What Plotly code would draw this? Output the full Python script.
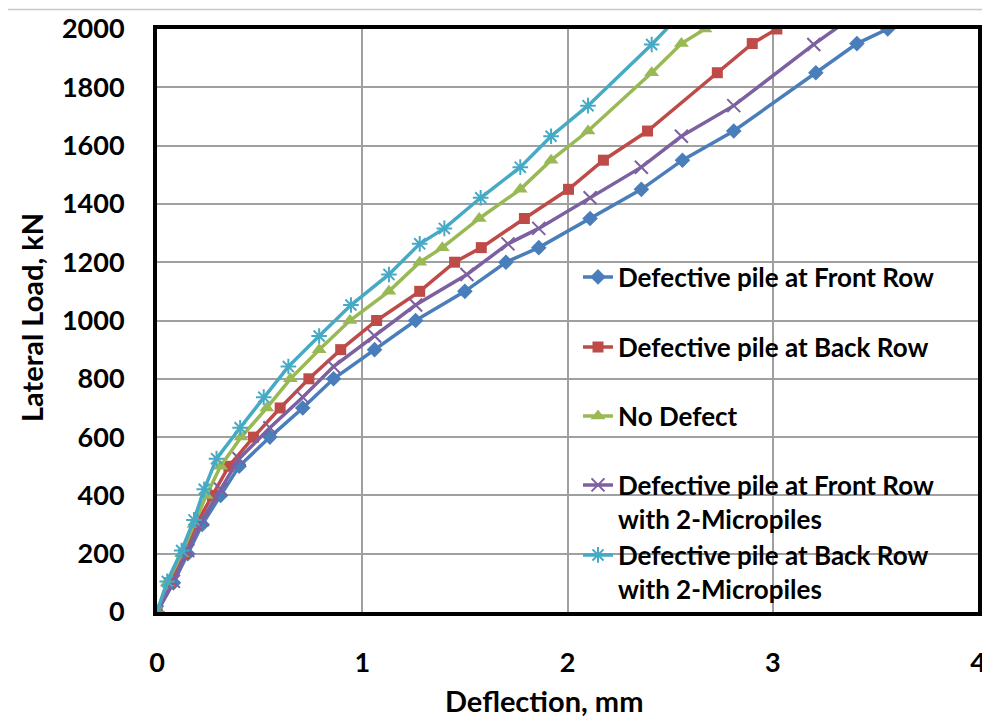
import plotly.graph_objects as go

# ---- data ----
loads_a = [0, 100, 200, 300, 400, 500, 600, 700, 800, 900, 1000, 1100, 1200,
           1250, 1350, 1450, 1550, 1650, 1850, 1950, 2000]
loads_b = [0, 105, 211, 316, 421, 526, 632, 737, 842, 947, 1053, 1158, 1263,
           1316, 1421, 1526, 1632, 1737, 1947, 2053]

defl_front = [0, 0.08, 0.15, 0.22, 0.31, 0.40, 0.55, 0.71, 0.86, 1.06, 1.26, 1.50, 1.70,
              1.86, 2.11, 2.36, 2.56, 2.81, 3.21, 3.41, 3.56]
defl_back = [0, 0.06, 0.13, 0.19, 0.27, 0.35, 0.47, 0.60, 0.74, 0.895, 1.07, 1.28, 1.45,
             1.58, 1.79, 2.005, 2.175, 2.39, 2.73, 2.90, 3.02]
defl_nodef = [0, 0.05, 0.12, 0.18, 0.24, 0.31, 0.41, 0.535, 0.65, 0.79, 0.94, 1.13, 1.28,
              1.39, 1.57, 1.77, 1.92, 2.10, 2.41, 2.555, 2.67]
defl_front_mp = [0, 0.08, 0.15, 0.22, 0.31, 0.40, 0.55, 0.71, 0.86, 1.06, 1.26, 1.51, 1.71,
                 1.86, 2.11, 2.36, 2.555, 2.81, 3.20, 3.41]
defl_back_mp = [0, 0.05, 0.12, 0.18, 0.23, 0.29, 0.405, 0.52, 0.64, 0.79, 0.945, 1.13, 1.28,
                1.40, 1.577, 1.77, 1.92, 2.10, 2.41, 2.555]

names = ["Defective pile at Front Row",
         "Defective pile at Back Row",
         "No Defect",
         "Defective pile at Front Row<br>with 2-Micropiles",
         "Defective pile at Back Row<br>with 2-Micropiles"]
x_ticks = [0, 1, 2, 3, 4]
y_ticks = [0, 200, 400, 600, 800, 1000, 1200, 1400, 1600, 1800, 2000]
x_title = "Deflection, mm"
y_title = "Lateral Load, kN"

colors = ["#4A7EBB", "#BE4B48", "#98B954", "#7D60A0", "#46AAC5"]
symbols = ["diamond", "square", "triangle-up", "x-thin-open", "asterisk-open"]
msizes = [12, 11, 13, 13, 13]

W, H = 990, 727
OFF = 8  # page body margin
# plot area in page pixels: left 157, top 29, right 978, bottom 612
ML, MT = 157 - OFF, 29 - OFF
MR = W - (978 - OFF)
MB = H - (612 - OFF)

series = [(defl_front, loads_a), (defl_back, loads_a), (defl_nodef, loads_a),
          (defl_front_mp, loads_b), (defl_back_mp, loads_b)]
legend_ids = ["legend", "legend2", "legend3", "legend4", "legend5"]

fig = go.Figure()
for i, (xs, ys) in enumerate(series):
    m = dict(symbol=symbols[i], size=msizes[i], color=colors[i])
    if "open" in symbols[i]:
        m["line"] = dict(color=colors[i], width=2)
    fig.add_trace(go.Scatter(
        x=xs, y=ys, mode="lines+markers", name=names[i],
        line=dict(color=colors[i], width=3.5),
        marker=m, legend=legend_ids[i]))

plot_h = H - MT - MB
plot_w = W - ML - MR
def py(page_pix):
    return (H - MB - (page_pix - OFF)) / plot_h
def px(page_pix):
    return ((page_pix - OFF) - ML) / plot_w

FONT = "Lato"
leg_font = dict(family=FONT, size=26, color="#000000", weight="bold")
leg_centers = [277, 347, 416, 502, 572]
legend_kw = {}
for i, lid in enumerate(legend_ids):
    legend_kw[lid] = dict(
        x=px(578), y=py(leg_centers[i]), xanchor="left", yanchor="middle",
        bgcolor="rgba(0,0,0,0)", font=leg_font, itemwidth=30, valign="top",
        tracegroupgap=0)

fig.update_layout(
    width=W, height=H,
    margin=dict(l=ML, r=MR, t=MT, b=MB, autoexpand=False),
    paper_bgcolor="white", plot_bgcolor="white",
    font=dict(family=FONT, size=27, color="#000000", weight="bold"),
    showlegend=True,
    **legend_kw,
    xaxis=dict(
        range=[0, 4], tickvals=x_ticks, ticktext=[str(v) for v in x_ticks],
        showgrid=True, gridcolor="#A0A0A0", gridwidth=1.5,
        showline=True, linecolor="#000000", linewidth=4, mirror=True,
        zeroline=False, ticks="", ticklabelstandoff=24, automargin=False,
        tickfont=dict(family=FONT, size=27, weight="bold")),
    yaxis=dict(
        range=[0, 2000], tickvals=y_ticks, ticktext=[str(v) for v in y_ticks],
        showgrid=True, gridcolor="#A0A0A0", gridwidth=1.5,
        showline=True, linecolor="#000000", linewidth=4, mirror=True,
        zeroline=False, ticks="", ticklabelstandoff=23, automargin=False,
        tickfont=dict(family=FONT, size=27, weight="bold")),
)

# axis titles placed like the reference
fig.add_annotation(text=x_title, xref="paper", yref="paper",
                   x=px(544), y=py(700), xanchor="center", yanchor="middle",
                   showarrow=False, font=dict(family=FONT, size=29, weight="bold"))
fig.add_annotation(text=y_title, xref="paper", yref="paper", textangle=-90,
                   x=px(32), y=py(317), xanchor="center", yanchor="middle",
                   showarrow=False, font=dict(family=FONT, size=29, weight="bold"))

# light frame line along the top of the chart area
fig.add_shape(type="line", xref="paper", yref="paper",
              x0=px(OFF), x1=px(W + OFF), y0=py(9.5), y1=py(9.5),
              line=dict(color="#C8C8C8", width=1.5))

fig.write_html("out.html")
